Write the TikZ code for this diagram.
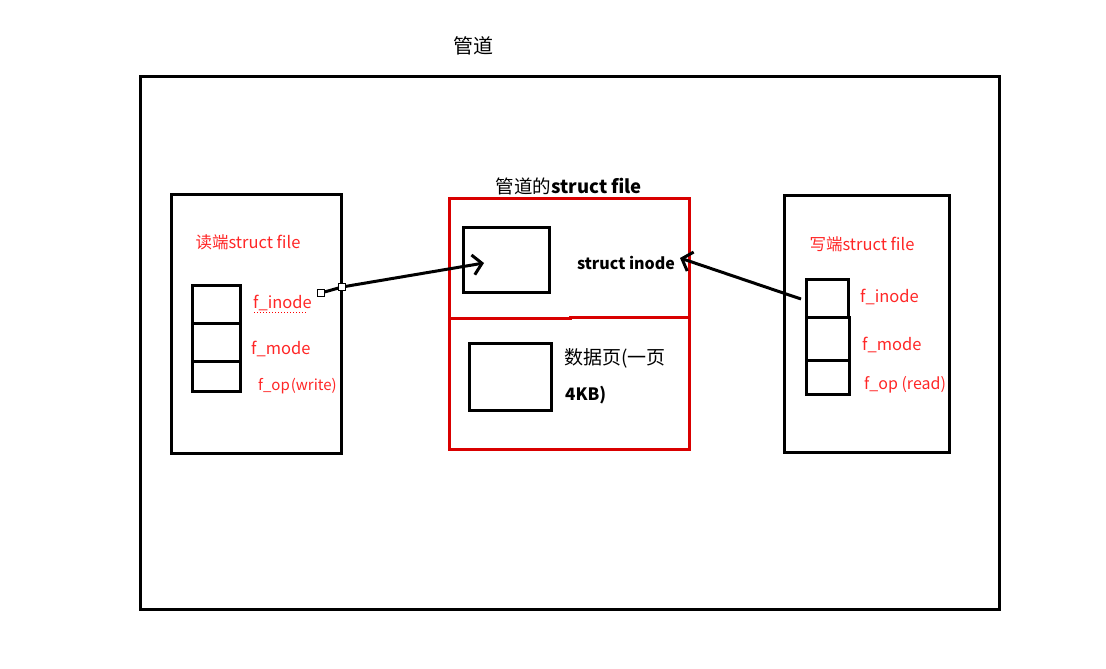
\documentclass[tikz,border=0pt]{standalone}
\usepackage{fontspec}
\setmainfont{Liberation Sans}
\newfontfamily\cjk{Noto Sans CJK SC}
\usetikzlibrary{arrows.meta}
\begin{document}
\begin{tikzpicture}[x=1pt,y=-1pt,
  blk/.style={draw=black,line width=3pt},
  redbox/.style={draw=red!85!black,line width=3pt},
  redtxt/.style={text=red!85!white,font=\cjk\fontsize{16.5}{19}\selectfont,inner sep=0pt},
  bktxt/.style={text=black,font=\cjk\fontsize{19}{22}\selectfont,inner sep=0pt},
  fld/.style={draw=black,line width=3pt,minimum width=0pt},
  arr/.style={draw=black,line width=3pt,-{Straight Barb[length=9pt,width=20pt,line width=3pt]}},
  hnd/.style={draw=black,fill=white,line width=0.8pt,minimum size=7pt,inner sep=0pt}]
\useasboundingbox (0,0) rectangle (1106,669);
% outer frame
\draw[blk] (140,77) rectangle (999,609);
\node[bktxt,font=\cjk\fontsize{20}{22}\selectfont] (title) at (473,46) {管道};
% left reader struct file
\draw[blk] (171,194) rectangle (341,453);
\node[redtxt] (ltitle) at (248,242) {读端struct file};
\draw[fld] (192,285) rectangle (240,323);
\draw[fld] (192,323) rectangle (240,361);
\draw[fld] (192,361) rectangle (240,391);
\node[redtxt,anchor=west] (lino) at (253,303) {f\_inode};
\draw[red,line width=1pt,dotted] (254,312) -- (307,312);
\node[redtxt,anchor=west] (lmode) at (251,349) {f\_mode};
\node[redtxt,anchor=west,font=\cjk\fontsize{15}{17}\selectfont] (lop) at (258,386) {f\_op\kern1pt(write)};
% middle pipe struct file
\node[bktxt,font=\cjk\fontsize{18.5}{22}\selectfont] (mtitle) at (569,186) {管道的\textbf{struct file}};
\draw[redbox] (449,198) rectangle (689,449);
\draw[redbox] (449,318) -- (570,318) -- (570,317) -- (689,317);
\draw[blk] (463,227) rectangle (549,292);
\coordinate (ino) at (484,263);
\node[bktxt,font=\cjk\bfseries\fontsize{16}{18}\selectfont] (sino) at (626,263) {struct inode};
\coordinate (inoR) at (680,258);
\draw[blk] (469,343) rectangle (551,410);
\node[bktxt,anchor=west] (page1) at (564,358) {数据页(一页};
\node[bktxt,anchor=west,font=\cjk\bfseries\fontsize{17}{19}\selectfont] (page2) at (565,395) {4KB)};
% right writer struct file
\draw[blk] (784,195) rectangle (949,452);
\node[redtxt] (rtitle) at (862,244) {写端struct file};
\draw[fld] (806,279) rectangle (848,317);
\draw[fld] (806,317) rectangle (849,360);
\draw[fld] (806,360) rectangle (849,394);
\node[redtxt,anchor=west] (rino) at (860,297) {f\_inode};
\node[redtxt,anchor=west] (rmode) at (862,345) {f\_mode};
\node[redtxt,anchor=west,font=\cjk\fontsize{16}{18}\selectfont] (rop) at (864,385) {f\_op (read)};
% arrows
\node[hnd] (h1) at (321,293) {};
\node[hnd] (h2) at (342,287) {};
\draw[arr] (h1) -- (h2.center) -- (ino);
\coordinate (rstart) at (801,299);
\draw[arr] (rstart) -- (inoR);
\draw[black,line width=2pt] (784,282) -- (784,301);
\node[hnd] at (321,293) {};
\node[hnd] at (342,287) {};
\end{tikzpicture}
\end{document}
